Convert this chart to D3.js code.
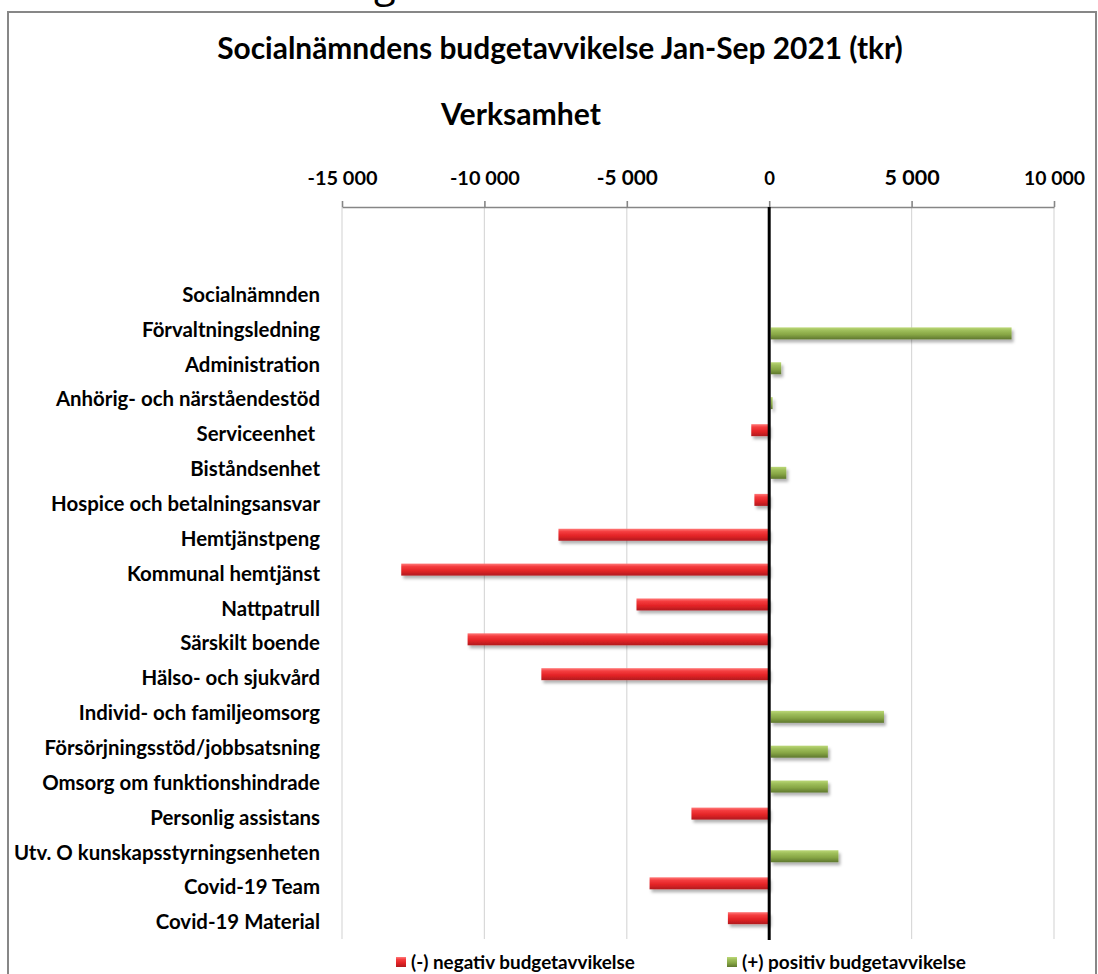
<!DOCTYPE html>
<html>
<head>
<meta charset="utf-8">
<script src="https://cdn.jsdelivr.net/npm/d3@7"></script>
<style>
	body { margin: 0; background: #fff; }
	svg { display: block; font-family: Lato, 'Open Sans', sans-serif; }
	text { white-space: pre; }
</style>
</head>
<body>
<svg width="1098" height="974"></svg>
<script>
const categories = ['', '', 'Socialnämnden', 'Förvaltningsledning', 'Administration', 'Anhörig- och närståendestöd',
	'Serviceenhet ', 'Biståndsenhet', 'Hospice och betalningsansvar', 'Hemtjänstpeng', 'Kommunal hemtjänst',
	'Nattpatrull', 'Särskilt boende', 'Hälso- och sjukvård', 'Individ- och familjeomsorg',
	'Försörjningsstöd/jobbsatsning', 'Omsorg om funktionshindrade', 'Personlig assistans',
	'Utv. O kunskapsstyrningsenheten', 'Covid-19 Team', 'Covid-19 Material'];

const negative = [0, 0, 0, 0, 0, 0, -630, 0, -520, -7400, -12920, -4660, -10590, -8000, 0, 0, 0, -2730, 0, -4200, -1450];
const positive = [0, 0, 0, 8510, 420, 120, 0, 600, 0, 0, 0, 0, 0, 0, 4030, 2060, 2060, 0, 2430, 0, 0];

const xTicks = [-15000, -10000, -5000, 0, 5000, 10000];
const seriesNames = ['(-) negativ budgetavvikelse', '(+) positiv budgetavvikelse'];

const svg = d3.select('svg');
const fmt = d3.formatLocale({decimal: ',', thousands: ' ', grouping: [3], currency: ['', ''], minus: '-'}).format(',');

// fits a text to a given pixel width by changing the font size
function fitWidth(sel, target) {
	let w = sel.node().getComputedTextLength();
	let fs = parseFloat(sel.attr('font-size'));
	sel.attr('font-size', fs * target / w);
}

const defs = svg.append('defs');
function gradient(id, stops) {
	let g = defs.append('linearGradient').attr('id', id).attr('x1', 0).attr('y1', 0).attr('x2', 0).attr('y2', 1);
	stops.forEach(s => g.append('stop').attr('offset', s[0]).attr('stop-color', s[1]));
}
gradient('gradNeg', [[0, '#ff7a7a'], [0.25, '#f43c3e'], [0.6, '#e32326'], [1, '#b01b1e']]);
gradient('gradPos', [[0, '#bcd877'], [0.25, '#9fbf5b'], [0.6, '#87a645'], [1, '#5e772e']]);
defs.append('filter').attr('id', 'shadow').attr('x', '-10%').attr('y', '-50%').attr('width', '130%').attr('height', '250%')
	.append('feDropShadow').attr('dx', 2).attr('dy', 3).attr('stdDeviation', 1.8)
	.attr('flood-color', '#000').attr('flood-opacity', 0.3);

// cut off heading above the chart
svg.append('text').attr('x', 374).attr('y', -3).attr('font-size', 40)
	.attr('font-family', "'Open Sans', sans-serif").text('g');

// chart frame
svg.append('rect').attr('x', 8).attr('y', 12).attr('width', 1088).attr('height', 1000)
	.attr('fill', 'none').attr('stroke', '#878787').attr('stroke-width', 2);

const x = d3.scaleLinear().domain([-15000, 10000]).range([342, 1054]);
const y = d3.scaleBand().domain(d3.range(categories.length)).range([207.5, 939.5]);
const slot = d3.scalePoint().domain(['neg', 'pos']).range([-3.9, 3.9]);
const barH = 12;

// title
let title = svg.append('text').attr('x', 560).attr('y', 59).attr('text-anchor', 'middle')
	.attr('font-weight', 700).attr('font-size', 26).text('Socialnämndens budgetavvikelse Jan-Sep 2021 (tkr)');
fitWidth(title, 686);

let sub = svg.append('text').attr('x', 521).attr('y', 125).attr('text-anchor', 'middle')
	.attr('font-weight', 700).attr('font-size', 24).text('Verksamhet');
fitWidth(sub, 160);

// gridlines
svg.append('g').selectAll('line').data(xTicks.filter(d => d !== 0)).enter().append('line')
	.attr('x1', d => x(d)).attr('x2', d => x(d))
	.attr('y1', 207).attr('y2', 939)
	.attr('stroke', '#d9d9d9').attr('stroke-width', 1.2);

// top axis
let axis = svg.append('g').attr('transform', 'translate(0,207)')
	.call(d3.axisTop(x).tickValues(xTicks).tickSize(6).tickSizeOuter(0).tickPadding(12).tickFormat(fmt));
axis.select('.domain').attr('stroke', '#868686').attr('stroke-width', 1.6);
axis.selectAll('.tick line').attr('stroke', '#868686').attr('stroke-width', 1.6);
axis.selectAll('.tick text').attr('font-size', 19).attr('font-weight', 700).attr('fill', '#000')
	.attr('font-family', "Lato, sans-serif").attr('dy', 0).attr('y', -22);
axis.selectAll('.tick text').each(function () { fitWidth(d3.select(this), this.textContent.length > 5 ? (this.textContent.length > 6 ? 70 : 61) : 12); });
axis.selectAll('.tick text').filter(d => d === 0).attr('font-size', 18.5);
axis.selectAll('.tick text').filter(d => Math.abs(d) === 5000).each(function () { fitWidth(d3.select(this), this.textContent[0] === '-' ? 61 : 55); });

// category labels
let labels = svg.append('g').selectAll('text').data(categories).enter().append('text')
	.attr('x', 320).attr('y', (d, i) => y(i) + y.bandwidth() / 2).attr('dy', '0.35em')
	.attr('text-anchor', 'end').attr('font-weight', 700).attr('font-size', 19).text(d => d);
let refLabel = labels.filter(d => d === 'Hospice och betalningsansvar');
let w0 = refLabel.node().getComputedTextLength();
labels.attr('font-size', 19 * 269 / w0);

// bars
const bars = svg.append('g').attr('filter', 'url(#shadow)');
bars.selectAll('rect.neg').data(negative).enter().filter(d => d < 0).append('rect')
	.attr('class', 'neg')
	.attr('x', d => x(d)).attr('width', d => x(0) - x(d))
	.attr('y', (d, i) => 0)
	.attr('height', barH).attr('fill', 'url(#gradNeg)');
bars.selectAll('rect.neg').attr('y', function () {
	let d = d3.select(this).datum();
	return y(negative.indexOf(d)) + y.bandwidth() / 2 + slot('neg') - barH / 2;
});
bars.selectAll('rect.pos').data(positive.map((v, i) => ({v, i})).filter(d => d.v > 0)).enter().append('rect')
	.attr('class', 'pos')
	.attr('x', x(0) + 1.5).attr('width', d => x(d.v) - x(0) - 1.5)
	.attr('y', d => y(d.i) + y.bandwidth() / 2 + slot('pos') - barH / 2)
	.attr('height', barH).attr('fill', 'url(#gradPos)');

// zero line
svg.append('line').attr('x1', x(0)).attr('x2', x(0)).attr('y1', 207).attr('y2', 940)
	.attr('stroke', '#000').attr('stroke-width', 3);

// legend
const legendX = [396, 727];
const legend = svg.append('g').selectAll('g').data(seriesNames).enter().append('g')
	.attr('transform', (d, i) => `translate(${legendX[i]},962)`);
legend.append('rect').attr('x', 0).attr('y', -5).attr('width', 10).attr('height', 10)
	.attr('fill', (d, i) => i === 0 ? 'url(#gradNeg)' : 'url(#gradPos)');
legend.append('text').attr('x', 15).attr('dy', '0.35em').attr('font-weight', 700).attr('font-size', 16)
	.text(d => d).each(function () { fitWidth(d3.select(this), 224); });
</script>
</body>
</html>
